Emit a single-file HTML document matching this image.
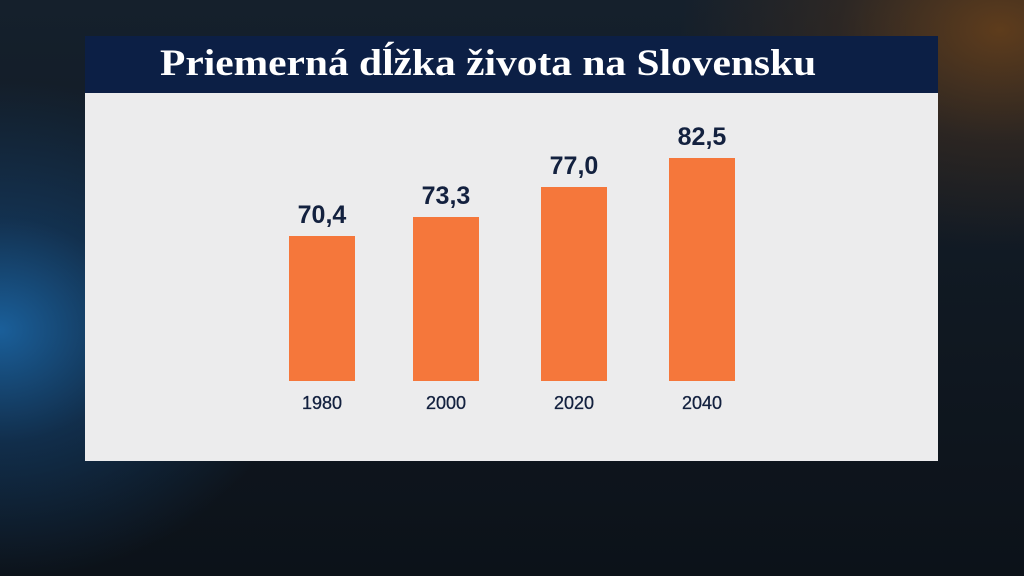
<!DOCTYPE html>
<html><head><meta charset="utf-8"><style>
html,body{margin:0;padding:0}
body{width:1024px;height:576px;position:relative;overflow:hidden;
background:radial-gradient(ellipse 300px 250px at 0px 330px,#1a5f9a 0%,rgba(20,70,120,0.5) 45%,rgba(0,0,0,0) 100%),
radial-gradient(ellipse 320px 220px at 1000px 30px,#5e3c1c 0%,rgba(80,50,25,0.4) 50%,rgba(0,0,0,0) 100%),
linear-gradient(#15202c,#0c1219);font-family:"Liberation Sans",sans-serif}
.title{position:absolute;left:85px;top:36px;width:853px;height:57px;background:#0c1f45}
.title span{position:absolute;left:75px;top:6px;font-family:"Liberation Serif",serif;font-weight:bold;font-size:37px;color:#fff;white-space:nowrap;transform:scaleX(1.12);transform-origin:0 0}
.panel{position:absolute;left:85px;top:93px;width:853px;height:368px;background:#ececed}
.bar{position:absolute;width:66px;background:#f5773b;bottom:80px}
.v{position:absolute;width:120px;text-align:center;font-weight:bold;font-size:25px;color:#13213f}
.y{position:absolute;width:120px;text-align:center;font-size:18px;color:#13213f;top:300px;-webkit-text-stroke:0.3px #13213f}
</style></head><body>
<div class="title"><span>Priemerná dĺžka života na Slovensku</span></div>
<div class="panel">
<div class="bar" style="left:204px;height:145px"></div>
<div class="bar" style="left:328px;height:164px"></div>
<div class="bar" style="left:456px;height:194px"></div>
<div class="bar" style="left:584px;height:223px"></div>
<div class="v" style="left:177px;top:108px">70,4</div>
<div class="v" style="left:301px;top:89px">73,3</div>
<div class="v" style="left:429px;top:59px">77,0</div>
<div class="v" style="left:557px;top:30px">82,5</div>
<div class="y" style="left:177px">1980</div>
<div class="y" style="left:301px">2000</div>
<div class="y" style="left:429px">2020</div>
<div class="y" style="left:557px">2040</div>
</div>
</body></html>
